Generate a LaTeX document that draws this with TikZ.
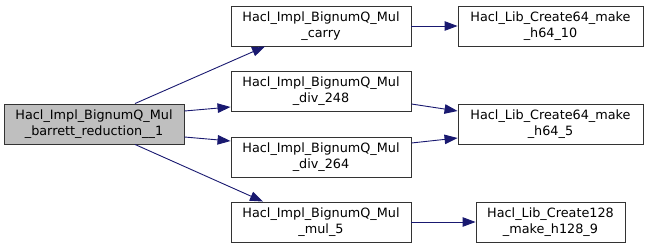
\documentclass[tikz,border=0pt]{standalone}
\usepackage{fontspec}
\setmainfont{DejaVu Sans}
\usetikzlibrary{arrows.meta}
\definecolor{edgeblue}{HTML}{191970}
\definecolor{rootgray}{HTML}{BFBFBF}
\tikzset{
  fn/.style={draw=black!80, line width=0.9pt, fill=white, minimum height=40pt,
    inner sep=0pt, align=center, font=\fontsize{12.8}{15.5}\selectfont},
  rootfn/.style={fn, fill=rootgray},
  call/.style={color=edgeblue, line width=0.9pt, -{Triangle[length=13pt,width=9.5pt]}}
}
\begin{document}
\begin{tikzpicture}
\useasboundingbox (0pt,0pt) rectangle (648pt,-248pt);

% caller
\node[rootfn, minimum width=180pt] (root) at (94pt,-124pt) {Hacl\_Impl\_BignumQ\_Mul\\\_barrett\_reduction\_\_1};

% direct callees
\node[fn, minimum width=180pt] (carry) at (321pt,-26pt) {Hacl\_Impl\_BignumQ\_Mul\\\_carry};
\node[fn, minimum width=180pt] (d248) at (321pt,-91pt) {Hacl\_Impl\_BignumQ\_Mul\\\_div\_248};
\node[fn, minimum width=180pt] (d264) at (321pt,-157pt) {Hacl\_Impl\_BignumQ\_Mul\\\_div\_264};
\node[fn, minimum width=180pt] (mul5) at (321pt,-222pt) {Hacl\_Impl\_BignumQ\_Mul\\\_mul\_5};

% library helpers
\node[fn, minimum width=185pt] (h10) at (550.5pt,-26pt) {Hacl\_Lib\_Create64\_make\\\_h64\_10};
\node[fn, minimum width=185pt] (h5) at (550.5pt,-124pt) {Hacl\_Lib\_Create64\_make\\\_h64\_5};
\node[fn, minimum width=149pt] (h128) at (550.5pt,-222pt) {Hacl\_Lib\_Create128\\\_make\_h128\_9};

% calls
\draw[call] ([xshift=41pt]root.north) -- ([xshift=-56pt]carry.south);
\draw[call] ([yshift=13pt]root.east) -- ([yshift=-16pt]d248.west);
\draw[call] ([yshift=-13pt]root.east) -- ([yshift=16pt]d264.west);
\draw[call] ([xshift=41pt]root.south) -- ([xshift=-58pt]mul5.north);
\draw[call] (carry.east) -- (h10.west);
\draw[call] ([yshift=-13pt]d248.east) -- ([yshift=13pt]h5.west);
\draw[call] ([yshift=14pt]d264.east) -- ([yshift=-14pt]h5.west);
\draw[call] (mul5.east) -- (h128.west);
\end{tikzpicture}
\end{document}
